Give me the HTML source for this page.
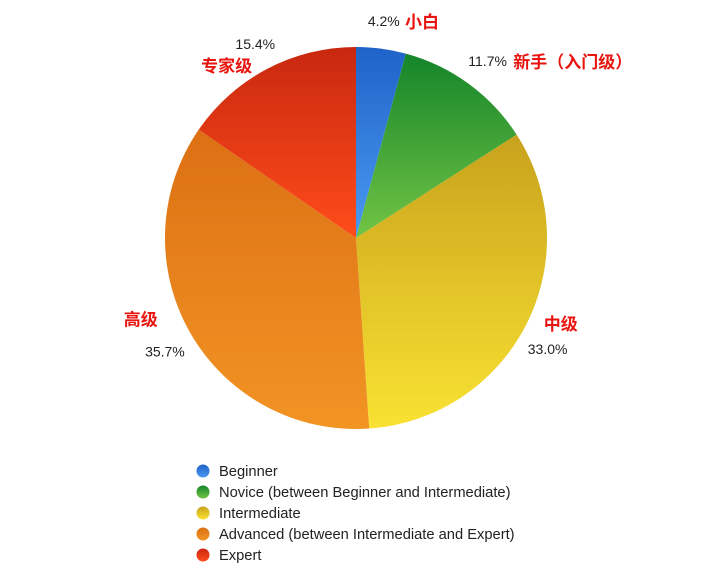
<!DOCTYPE html>
<html><head><meta charset="utf-8">
<style>
html,body{margin:0;padding:0;background:#fff;}
body{width:720px;height:581px;overflow:hidden;font-family:"Liberation Sans","Noto Sans CJK SC",sans-serif;}
</style></head>
<body>
<svg id="chart" width="720" height="581" xmlns="http://www.w3.org/2000/svg">
<defs id="defs"></defs>
<g id="slices"></g>
<g id="labels"></g>
<g id="legend"></g>
</svg>
<script>
const categories = ["Beginner","Novice (between Beginner and Intermediate)","Intermediate","Advanced (between Intermediate and Expert)","Expert"];
const values = [4.2, 11.7, 33.0, 35.7, 15.4];
const cnLabels = ["小白","新手（入门级）","中级","高级","专家级"];
const darkColors = ["#1f63c9","#14852a","#c8a21c","#dc7014","#c82810"];
const lightColors = ["#4a9af0","#72c444","#f9e232","#f29424","#ff4c1a"];
const NS="http://www.w3.org/2000/svg";
const cx=356, cy=238, r=191;
const defs=document.getElementById('defs'), gS=document.getElementById('slices'), gL=document.getElementById('labels'), gLeg=document.getElementById('legend');
const total=values.reduce((a,b)=>a+b,0);
function pt(a,rr){return [cx+rr*Math.sin(a), cy-rr*Math.cos(a)];}
let a0=0;
values.forEach((v,i)=>{
  const a1=a0+v/total*2*Math.PI;
  const g=document.createElementNS(NS,'linearGradient');
  g.setAttribute('id','grad'+i);g.setAttribute('x1','0');g.setAttribute('y1','0');g.setAttribute('x2','0');g.setAttribute('y2','1');
  g.innerHTML='<stop offset="0" stop-color="'+darkColors[i]+'"/><stop offset="1" stop-color="'+lightColors[i]+'"/>';
  defs.appendChild(g);
  const p0=pt(a0,r),p1=pt(a1,r);
  const large=(a1-a0)>Math.PI?1:0;
  const path=document.createElementNS(NS,'path');
  path.setAttribute('d',`M${cx},${cy} L${p0[0]},${p0[1]} A${r},${r} 0 ${large} 1 ${p1[0]},${p1[1]} Z`);
  path.setAttribute('fill','url(#grad'+i+')');
  
  
  gS.appendChild(path);
  const mid=(a0+a1)/2;
  const lp=pt(mid,r+28);
  const right=Math.sin(mid)>=0;
  const t=document.createElementNS(NS,'text');
  t.setAttribute('font-size','14');t.setAttribute('fill','#222');
  t.setAttribute('text-anchor',right?'start':'end');
  t.textContent=v.toFixed(1)+'%';
  const c=document.createElementNS(NS,'text');
  c.setAttribute('font-size','17');c.setAttribute('font-weight','bold');c.setAttribute('fill','#e8150f');
  c.setAttribute('text-anchor',right?'start':'end');
  c.textContent=cnLabels[i];
  let tx=lp[0], ty=lp[1];
  if(right){
    if(Math.cos(mid)>0){ t.setAttribute('x',tx-17);t.setAttribute('y',ty+5); c.setAttribute('x',tx-17+t.textContent.length*7.8+6);c.setAttribute('y',ty+7);}
    else { c.setAttribute('x',tx-8);c.setAttribute('y',ty-6); t.setAttribute('x',tx-24);t.setAttribute('y',ty+18);}
  } else {
    if(Math.cos(mid)>0){ t.setAttribute('x',tx+21);t.setAttribute('y',ty+5); c.setAttribute('x',tx-2);c.setAttribute('y',ty+28);}
    else { c.setAttribute('x',tx-8);c.setAttribute('y',ty-21); t.setAttribute('x',tx+19);t.setAttribute('y',ty+10);}
  }
  
  
  
  
  gL.appendChild(t);gL.appendChild(c);
  const ly=471+i*21;
  const circ=document.createElementNS(NS,'circle');
  circ.setAttribute('cx',203);circ.setAttribute('cy',ly);circ.setAttribute('r',6.5);
  circ.setAttribute('fill','url(#grad'+i+')');
  
  
  gLeg.appendChild(circ);
  const lt=document.createElementNS(NS,'text');
  lt.setAttribute('x',219);lt.setAttribute('y',ly+5);lt.setAttribute('font-size','14.7');lt.setAttribute('fill','#222');
  lt.textContent=categories[i];
  
  
  gLeg.appendChild(lt);
  a0=a1;
});
</script>
</body></html>
